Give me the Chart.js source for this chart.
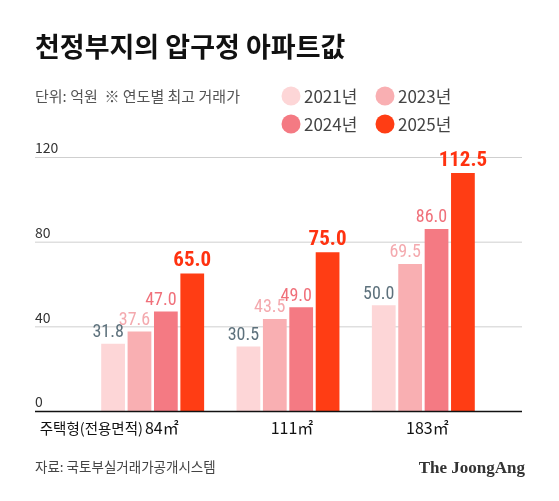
<!DOCTYPE html>
<html><head><meta charset="utf-8">
<script src="https://cdn.jsdelivr.net/npm/chart.js@4"></script>
<style>html,body{margin:0;padding:0;background:#fff}#w{width:559px;height:501px}</style>
</head><body><div id="w"><canvas id="c"></canvas></div>
<script>
const categories = ['84㎡', '111㎡', '183㎡'];
const seriesLabels = ['2021년', '2023년', '2024년', '2025년'];
const v2021 = [31.8, 30.5, 50.0];
const v2023 = [37.6, 43.5, 69.5];
const v2024 = [47.0, 49.0, 86.0];
const v2025 = [65.0, 75.0, 112.5];
const yTicks = [0, 40, 80, 120];

const barColors = ['#fdd6d7', '#f9afb2', '#f47a83', '#ff3d14'];
const labelColors = ['#5d717c', '#f4a9ae', '#f0707a', '#ff3210'];
const FONT = "'Noto Sans CJK KR','Noto Sans',sans-serif";
const NARROW = "'Liberation Sans Narrow','Roboto Condensed','Liberation Sans',sans-serif";
const vals = [v2021, v2023, v2024, v2025];

const deco = {
  id: 'deco',
  beforeDatasetsDraw(chart) {
    const ctx = chart.ctx, y = chart.scales.y;
    ctx.save();
    ctx.font = "14px " + FONT; ctx.fillStyle = '#333'; ctx.textBaseline = 'bottom';
    yTicks.forEach(t => {
      const py = y.getPixelForValue(t);
      if (t !== 0) { ctx.strokeStyle = '#cfcfcf'; ctx.lineWidth = 1; ctx.beginPath(); ctx.moveTo(35, py + .5); ctx.lineTo(522, py + .5); ctx.stroke(); }
      ctx.fillText(String(t), 35, py - 2);
    });
    ctx.restore();
  },
  afterDatasetsDraw(chart) {
    const ctx = chart.ctx, y = chart.scales.y, x = chart.scales.x;
    ctx.save();
    const py0 = y.getPixelForValue(0);
    ctx.strokeStyle = '#111'; ctx.lineWidth = 1.5; ctx.beginPath(); ctx.moveTo(35, py0 + .5); ctx.lineTo(522, py0 + .5); ctx.stroke();
    chart.data.datasets.forEach((ds, i) => {
      chart.getDatasetMeta(i).data.forEach((bar, j) => {
        ctx.fillStyle = labelColors[i];
        ctx.font = (i === 3 ? "bold 21px " : "18px ") + NARROW;
        ctx.textAlign = 'center'; ctx.textBaseline = 'bottom';
        ctx.fillText(ds.data[j].toFixed(1), bar.x - (i === 3 ? 0 : 5), bar.y - 2);
      });
    });
    ctx.fillStyle = '#111'; ctx.textBaseline = 'alphabetic';
    categories.forEach((c, j) => {
      const px = x.getPixelForValue(j);
      if (j === 0) {
        ctx.font = "16px " + FONT; ctx.textAlign = 'right';
        const w = ctx.measureText(c).width;
        ctx.fillText(c, px + 26, 434);
        ctx.font = "14.5px " + FONT;
        ctx.fillText('주택형(전용면적)', px + 24 - w, 434);
      } else {
        ctx.font = "16px " + FONT; ctx.textAlign = 'center';
        ctx.fillText(c, px + 4, 434);
      }
    });
    ctx.textAlign = 'left';
    ctx.font = "bold 27px " + FONT; ctx.fillStyle = '#111';
    ctx.fillText('천정부지의 압구정 아파트값', 35, 57);
    ctx.font = "15px " + FONT; ctx.fillStyle = '#555';
    ctx.fillText('단위: 억원  ※ 연도별 최고 거래가', 35, 102);
    const lp = [[291, 96], [385, 96], [291, 124], [385, 124]];
    seriesLabels.forEach((l, i) => {
      ctx.fillStyle = barColors[i]; ctx.beginPath(); ctx.arc(lp[i][0], lp[i][1], 9.5, 0, Math.PI * 2); ctx.fill();
      ctx.fillStyle = '#444'; ctx.font = "17px " + FONT; ctx.textBaseline = 'middle';
      ctx.fillText(l, lp[i][0] + 13, lp[i][1] + 1);
    });
    ctx.textBaseline = 'alphabetic';
    ctx.font = "13.5px " + FONT; ctx.fillStyle = '#444';
    ctx.fillText('자료: 국토부실거래가공개시스템', 35, 472);
    ctx.font = "bold 17px 'Liberation Serif','DejaVu Serif',serif"; ctx.fillStyle = '#333'; ctx.textAlign = 'right';
    ctx.fillText('The JoongAng', 525, 473);
    ctx.restore();
  }
};

new Chart(document.getElementById('c'), {
  type: 'bar',
  data: {
    labels: categories,
    datasets: vals.map((d, i) => ({ label: seriesLabels[i], data: d, backgroundColor: barColors[i], categoryPercentage: 0.78, barPercentage: 0.9 }))
  },
  options: {
    responsive: true, maintainAspectRatio: false, animation: false,
    layout: { padding: { top: 157, bottom: 90, left: 85, right: 68 } },
    plugins: { legend: { display: false }, tooltip: { enabled: false } },
    scales: {
      x: { display: false },
      y: { display: false, min: 0, max: 120 }
    }
  },
  plugins: [deco]
});
</script></body></html>
